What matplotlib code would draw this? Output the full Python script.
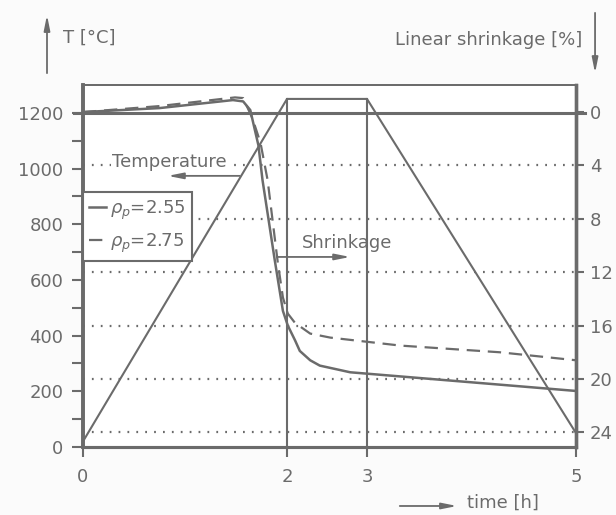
import numpy as np
import matplotlib
matplotlib.use("Agg")
import matplotlib.pyplot as plt

# Firing schedule: heating ramp, isothermal hold, cooling ramp
temp_time = [0, 2, 3, 5]
temp_values = [20, 1250, 1250, 50]

# Linear shrinkage (%) versus time for two powder densities
shr_time_255 = [0, 0.75, 1.47, 1.57, 1.64, 1.72, 1.76, 1.82, 1.88, 1.96,
                2.01, 2.10, 2.16, 2.29, 2.41, 2.79, 5.0]
shr_255 = [0, -0.3, -0.9, -0.8, -0.15, 2.5, 5.1, 8.1, 11.1, 14.9,
           16.0, 17.1, 17.9, 18.6, 19.0, 19.5, 20.9]
shr_time_275 = [0, 0.75, 1.49, 1.57, 1.66, 1.74, 1.81, 1.91, 1.96, 2.01,
                2.10, 2.29, 2.54, 3.32, 4.27, 5.0]
shr_275 = [0, -0.45, -1.1, -1.05, 0.45, 2.3, 5.1, 11.3, 13.9, 15.1,
           15.8, 16.6, 16.9, 17.5, 18.0, 18.6]

temp_ticks = [0, 200, 400, 600, 800, 1000, 1200]
temp_minor = [100, 300, 500, 700, 900, 1100]
shr_ticks = [0, 4, 8, 12, 16, 20, 24]
time_ticks = [0, 2, 3, 5]
legend_labels = [r"$\rho_p$=2.55", r"$\rho_p$=2.75"]

INK = "#6b6b6b"
BG = "#fbfbfb"
FS = 13

plt.rcParams["font.family"] = ["DejaVu Sans"]
plt.rcParams["mathtext.fontset"] = "dejavusans"

# Schematic time axis: the hold segment is drawn narrower than the ramps
_bt = np.array([0.0, 2.0, 3.0, 5.0])
_bu = np.array([0.0, 204.0, 284.0, 493.0])


def t_fwd(t):
    t = np.asarray(t, dtype=float)
    u = np.interp(t, _bt, _bu)
    u = np.where(t < 0, t * 102.0, u)
    u = np.where(t > 5, 493.0 + (t - 5) * 104.5, u)
    return u


def t_inv(u):
    u = np.asarray(u, dtype=float)
    t = np.interp(u, _bu, _bt)
    t = np.where(u < 0, u / 102.0, t)
    t = np.where(u > 493, 5 + (u - 493.0) / 104.5, t)
    return t


fig = plt.figure(figsize=(6.16, 5.15), dpi=100, facecolor=BG)
ax = fig.add_axes([83 / 616, 68 / 515, 493 / 616, 362 / 515])
ax.set_facecolor("white")
ax.set_xscale("function", functions=(t_fwd, t_inv))
ax.set_xlim(0, 5)
ax.set_ylim(0, 1300)

ax2 = ax.twinx()
ax2.set_ylim(25.1, -2.03)

# Temperature schedule (left axis)
ax.plot(temp_time, temp_values, color=INK, lw=1.5, zorder=3)
for tv in (2, 3):
    ax.plot([tv, tv], [0, 1250], color=INK, lw=1.5, zorder=3)
ax.axhline(1200, xmin=-0.018, xmax=1.018, color=INK, lw=2.2, clip_on=False, zorder=4)

# Shrinkage curves (right axis, increasing downward)
l1, = ax2.plot(shr_time_255, shr_255, color=INK, lw=1.8, zorder=3)
l2, = ax2.plot(shr_time_275, shr_275, color=INK, lw=1.6, ls=(0, (6, 3.5)), zorder=3)

# Dotted grid on the shrinkage scale
for s in shr_ticks[1:]:
    ax2.axhline(s, color=INK, lw=1.6, ls=(0, (0.8, 3.2)), zorder=1)

# Ticks
ax.set_yticks(temp_ticks)
ax.set_yticks(temp_minor, minor=True)
ax.set_xticks(time_ticks)
ax.set_xticklabels([str(v) for v in time_ticks])
ax.xaxis.set_minor_locator(matplotlib.ticker.NullLocator())
ax.tick_params(axis="y", which="both", direction="out", length=8, width=1.5,
               colors=INK, labelsize=FS, pad=6)
ax.tick_params(axis="x", which="both", direction="out", length=7, width=1.5,
               colors=INK, labelsize=FS, pad=8)
ax2.set_yticks(shr_ticks)
ax2.tick_params(axis="y", direction="out", length=6, width=1.5,
                colors=INK, labelsize=FS, pad=4)

for a in (ax, ax2):
    for side, w in (("left", 2.6), ("bottom", 2.2), ("right", 2.4), ("top", 1.3)):
        a.spines[side].set_color(INK)
        a.spines[side].set_linewidth(w)

# Legend box in the upper-left part of the plot
leg = ax2.legend([l1, l2], legend_labels, loc="upper left",
                 bbox_to_anchor=(0.0, 0.704), borderaxespad=0, fancybox=False,
                 frameon=True, framealpha=1, facecolor="white", edgecolor=INK,
                 fontsize=FS, handlelength=0.9, handletextpad=0.25,
                 labelspacing=0.55, borderpad=0.35, labelcolor=INK)
leg.get_frame().set_linewidth(1.5)
leg.set_zorder(5)

arrow_kw = dict(arrowstyle="-|>,head_length=0.9,head_width=0.18",
                color=INK, lw=1.3, shrinkA=0, shrinkB=0)

# Curve labels with pointers to their axes
ax2.text(0.059, 0.787, "Temperature", transform=ax2.transAxes, fontsize=FS,
         color=INK, va="center", ha="left", zorder=6,
         bbox=dict(facecolor="white", edgecolor="none", pad=0.5))
ax2.annotate("", xy=(0.172, 0.749), xytext=(0.318, 0.749),
             xycoords="axes fraction", textcoords="axes fraction",
             arrowprops=arrow_kw, zorder=6)
ax2.text(0.444, 0.564, "Shrinkage", transform=ax2.transAxes, fontsize=FS,
         color=INK, va="center", ha="left", zorder=6)
ax2.annotate("", xy=(0.542, 0.525), xytext=(0.394, 0.525),
             xycoords="axes fraction", textcoords="axes fraction",
             arrowprops=arrow_kw, zorder=6)

# Axis titles with direction arrows
fig.text(0.102, 0.926, "T [°C]", fontsize=FS, color=INK, va="center", ha="left")
fig.text(0.946, 0.922, "Linear shrinkage [%]", fontsize=FS, color=INK,
         va="center", ha="right")
fig.text(0.758, 0.023, "time [h]", fontsize=FS, color=INK, va="center", ha="left")
ax.annotate("", xy=(0.0763, 0.971), xytext=(0.0763, 0.858),
            xycoords="figure fraction", textcoords="figure fraction",
            arrowprops=arrow_kw)
ax.annotate("", xy=(0.966, 0.858), xytext=(0.966, 0.975),
            xycoords="figure fraction", textcoords="figure fraction",
            arrowprops=arrow_kw)
ax.annotate("", xy=(0.742, 0.0175), xytext=(0.649, 0.0175),
            xycoords="figure fraction", textcoords="figure fraction",
            arrowprops=arrow_kw)

fig.savefig("out.png", dpi=100, facecolor=BG)
